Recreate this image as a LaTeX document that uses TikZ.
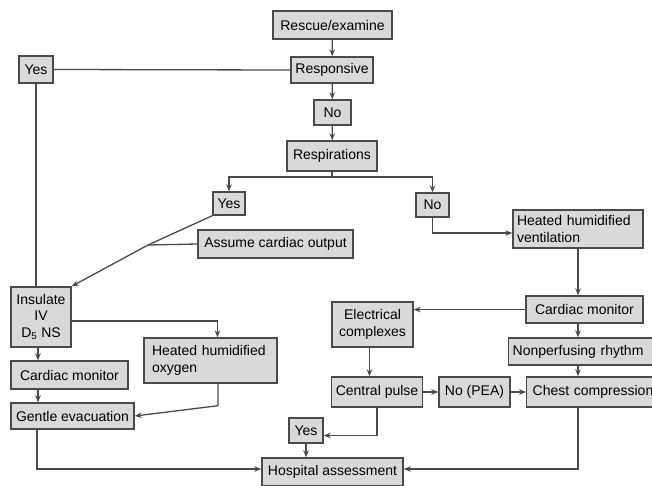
\documentclass[tikz,border=0pt]{standalone}
\usepackage{fontspec}
\setmainfont{Liberation Sans}
\usetikzlibrary{arrows.meta}
\definecolor{boxfill}{HTML}{D9D9D9}
\definecolor{boxline}{HTML}{4A4A4A}

\begin{document}
\begin{tikzpicture}[x=1pt, y=-1pt,
	every node/.style = {shape=rectangle, draw=boxline, fill=boxfill,
		line width=1.4pt, inner xsep=4pt, inner ysep=2pt, align=center,
		font=\fontsize{14}{16.5}\selectfont},
	link/.style = {draw=boxline, line width=1.3pt},
	arr/.style = {link, -{Stealth[length=7pt, width=5.5pt]}}]
	\useasboundingbox (0,0) rectangle (652,485);
	\clip (0,0) rectangle (652,485);
	\node[minimum width=119, minimum height=28] (rescue) at (332.5,25) {Rescue/examine};
	\node[minimum width=82, minimum height=26] (responsive) at (332,70) {Responsive};
	\node[minimum width=37, minimum height=25] (no1) at (332.5,112.5) {No};
	\node[minimum width=90, minimum height=30] (respirations) at (332,156) {Respirations};
	\node[minimum width=34, minimum height=27] (yes1) at (36,69.5) {Yes};
	\node[minimum width=32, minimum height=23] (yes2) at (229,203.5) {Yes};
	\node[minimum width=33, minimum height=24] (no2) at (432.5,205) {No};
	\node[text width=122pt, minimum height=38, align=left] (vent) at (578,229) {Heated humidified\\ventilation};
	\node[minimum width=155, minimum height=28] (assume) at (275.5,244) {Assume cardiac output};
	\node[minimum width=60, minimum height=60] (insulate) at (41,317) {Insulate\\IV\\D\textsubscript{5} NS};
	\node[minimum width=117, minimum height=28] (monitor1) at (69.5,375) {Cardiac monitor};
	\node[inner xsep=8pt, text width=117pt, minimum height=45, align=left] (oxygen) at (210.5,360.5) {Heated humidified\\oxygen};
	\node[minimum width=123, minimum height=26] (evacuation) at (72.5,416) {Gentle evacuation};
	\node[minimum width=117, minimum height=27] (monitor2) at (584.5,309.5) {Cardiac monitor};
	\node[minimum width=81, minimum height=45] (electrical) at (372.5,324.5) {Electrical\\complexes};
	\node[anchor=west, text width=150pt, align=left, minimum height=27] (rhythm) at (508,351.5) {Nonperfusing rhythm};
	\node[minimum width=90, minimum height=30] (pulse) at (377,392) {Central pulse};
	\node[minimum width=71, minimum height=30] (pea) at (474.5,392) {No (PEA)};
	\node[anchor=west, inner xsep=6pt, text width=150pt, align=left, minimum height=30] (chest) at (526,392) {Chest compression};
	\node[minimum width=34, minimum height=25] (yes3) at (306,430.5) {Yes};
	\node[minimum width=141, minimum height=28] (hospital) at (332.5,472) {Hospital assessment};
	\coordinate (split) at (332,177);
	\coordinate (join) at (148,245);
	\draw[arr] (rescue) -- (responsive);
	\draw[arr] (responsive) -- (no1);
	\draw[arr] (no1) -- (respirations);
	\draw[link] (responsive.west) -- (yes1.east);
	\draw[link] (yes1.south) -- (yes1.south |- insulate.north);
	\draw[link] (respirations.south) -- (split);
	\draw[arr] (split) -| (yes2.north);
	\draw[arr] (split) -| (no2.north);
	\draw[link] (yes2.south west) -- (join);
	\draw[link] (assume.west) -- (join);
	\draw[arr] (join) -- (insulate.north east);
	\draw[arr] ([yshift=-4pt]insulate.east) -| ([xshift=7pt]oxygen.north);
	\draw[arr] ([xshift=-3pt]insulate.south) -- ([xshift=-31.5pt]monitor1.north);
	\draw[arr] ([xshift=-31.5pt]monitor1.south) -- ([xshift=-34.5pt]evacuation.north);
	\draw[arr] ([xshift=7.5pt]oxygen.south) -- ++(0,22) -- (evacuation.east);
	\draw[arr] ([xshift=-35.5pt]evacuation.south) |- ([yshift=3pt]hospital.west);
	\draw[arr] (no2.south) |- ([yshift=-4pt]vent.west);
	\draw[arr] (vent.south) -- (vent.south |- monitor2.north);
	\draw[arr] (monitor2.west) -- (monitor2.west -| electrical.east);
	\draw[arr] (monitor2.south -| vent.south) -- (vent.south |- rhythm.north);
	\draw[arr] (rhythm.south -| vent.south) -- (vent.south |- chest.north);
	\draw[arr] ([xshift=-3pt]electrical.south) -- ([xshift=-3pt]electrical.south |- pulse.north);
	\draw[arr] (pulse) -- (pea);
	\draw[arr] (pea) -- (chest);
	\draw[arr] (pulse.south) |- ([yshift=-5pt]yes3.east);
	\draw[arr] (yes3.south) -- (yes3.south |- hospital.north);
	\draw[arr] (chest.south -| vent.south) |- ([yshift=3pt]hospital.east);
\end{tikzpicture}
\end{document}
